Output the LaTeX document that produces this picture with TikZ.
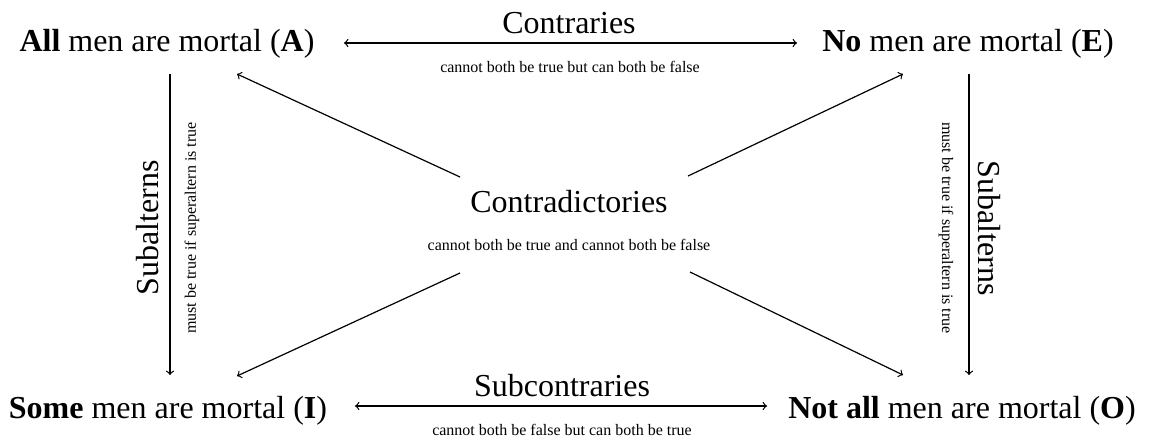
\documentclass[tikz,border=0pt]{standalone}
\usepackage{fontspec}
\setmainfont{Liberation Serif}
\begin{document}
\begin{tikzpicture}[x=0.5pt,y=-0.5pt,
  big/.style={font=\fontsize{16}{19}\selectfont, inner sep=0pt},
  small/.style={font=\fontsize{8}{10}\selectfont, inner sep=0pt},
  conn/.style={line width=0.6pt}]
\useasboundingbox (0,0) rectangle (1150,441);
% statements
\node[big, anchor=base] (A) at (167,51) {\textbf{All} men are mortal (\textbf{A})};
\node[big, anchor=base] (E) at (968,51) {\textbf{No} men are mortal (\textbf{E})};
\node[big, anchor=base] (I) at (168,418) {\textbf{Some} men are mortal (\textbf{I})};
\node[big, anchor=base] (O) at (962,418) {\textbf{Not all} men are mortal (\textbf{O})};
% relation labels
\node[big, anchor=base] (contr) at (569,33) {Contraries};
\node[small, anchor=base] (contrs) at (570,72) {cannot both be true but can both be false};
\node[big, anchor=base] (sub) at (562,396) {Subcontraries};
\node[small, anchor=base] (subs) at (562,435) {cannot both be false but can both be true};
\node[big, anchor=base] (cd) at (569,212) {Contradictories};
\node[small, anchor=base] (cds) at (569,250) {cannot both be true and cannot both be false};
\node[big, rotate=90] (salL) at (148,228) {Subalterns};
\node[small, rotate=90] (salLs) at (192,228) {must be true if superaltern is true};
\node[big, rotate=-90] (salR) at (989,228) {Subalterns};
\node[small, rotate=-90] (salRs) at (946,228) {must be true if superaltern is true};
% connector end points
\coordinate (aeL) at (344,43);  \coordinate (aeR) at (797,43);
\coordinate (ioL) at (355,406); \coordinate (ioR) at (767,406);
\coordinate (aiT) at (170,74);  \coordinate (aiB) at (170,375);
\coordinate (eoT) at (969,74);  \coordinate (eoB) at (969,375);
\coordinate (dA0) at (460,177); \coordinate (dA1) at (237,74);
\coordinate (dE0) at (688,176); \coordinate (dE1) at (903,74);
\coordinate (dI0) at (460,273); \coordinate (dI1) at (237,376);
\coordinate (dO0) at (690,272); \coordinate (dO1) at (903,375);
% connectors
\draw[conn,<->] (aeL) -- (aeR);
\draw[conn,<->] (ioL) -- (ioR);
\draw[conn,->] (aiT) -- (aiB);
\draw[conn,->] (eoT) -- (eoB);
\draw[conn,->] (dA0) -- (dA1);
\draw[conn,->] (dE0) -- (dE1);
\draw[conn,->] (dI0) -- (dI1);
\draw[conn,->] (dO0) -- (dO1);
\end{tikzpicture}
\end{document}
